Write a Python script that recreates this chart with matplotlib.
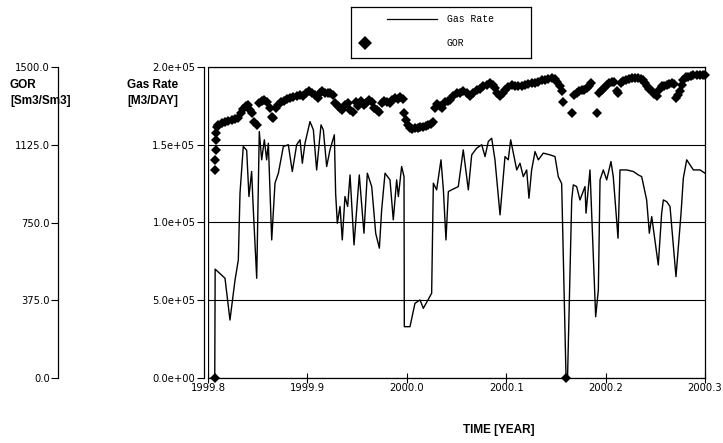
import matplotlib
matplotlib.use('Agg')
import matplotlib.pyplot as plt
from matplotlib.lines import Line2D

# ---------------- data ----------------
gas_time = [1999.8068, 1999.8072, 1999.8171, 1999.8221, 1999.8272, 1999.8305, 1999.8322, 1999.8355,
            1999.8389, 1999.8412, 1999.8439, 1999.8456, 1999.8490, 1999.8516, 1999.8540, 1999.8567,
            1999.8590, 1999.8607, 1999.8641, 1999.8674, 1999.8708, 1999.8758, 1999.8808, 1999.8848,
            1999.8892, 1999.8926, 1999.8949, 1999.8976, 1999.9026, 1999.9060, 1999.9093, 1999.9137,
            1999.9160, 1999.9194, 1999.9227, 1999.9271, 1999.9284, 1999.9301, 1999.9328, 1999.9351,
            1999.9378, 1999.9405, 1999.9429, 1999.9469, 1999.9522, 1999.9569, 1999.9603, 1999.9647,
            1999.9687, 1999.9724, 1999.9747, 1999.9781, 1999.9831, 1999.9864, 1999.9898, 1999.9915,
            1999.9948, 1999.9972, 1999.9975, 2000.0032, 2000.0082, 2000.0133, 2000.0166, 2000.0250,
            2000.0267, 2000.0300, 2000.0344, 2000.0368, 2000.0394, 2000.0418, 2000.0451, 2000.0518,
            2000.0568, 2000.0619, 2000.0653, 2000.0703, 2000.0754, 2000.0787, 2000.0820, 2000.0854,
            2000.0887, 2000.0938, 2000.0988, 2000.1021, 2000.1045, 2000.1072, 2000.1106, 2000.1139,
            2000.1172, 2000.1206, 2000.1229, 2000.1256, 2000.1290, 2000.1323, 2000.1373, 2000.1441,
            2000.1491, 2000.1524, 2000.1558, 2000.1602, 2000.1617, 2000.1659, 2000.1675, 2000.1709,
            2000.1742, 2000.1793, 2000.1803, 2000.1843, 2000.1900, 2000.1927, 2000.1944, 2000.1977,
            2000.2011, 2000.2054, 2000.2077, 2000.2125, 2000.2145, 2000.2212, 2000.2279, 2000.2329,
            2000.2363, 2000.2413, 2000.2440, 2000.2464, 2000.2530, 2000.2564, 2000.2581, 2000.2615,
            2000.2648, 2000.2708, 2000.2759, 2000.2782, 2000.2816, 2000.2883, 2000.2950, 2000.3000]
gas_rate = [0, 70000, 64150, 37300, 63060, 75900, 118800, 148900,
            146500, 116700, 132800, 108100, 64150, 158500, 140300, 153200,
            140300, 151000, 88800, 125300, 131700, 148900, 150000, 132800,
            150000, 153200, 138100, 151000, 164900, 159600, 133800, 162800,
            159600, 136000, 146700, 156400, 118800, 99500, 110300, 88800,
            116700, 110300, 130600, 85600, 130600, 93100, 131700, 123100,
            93100, 83500, 108100, 131700, 127400, 101700, 127400, 116700,
            136000, 129500, 33000, 33000, 48000, 50200, 44800, 54500,
            125300, 121000, 140300, 121000, 88800, 119900, 121000, 123100,
            146700, 121000, 143500, 147800, 150000, 142400, 152100, 154200,
            140300, 104900, 142400, 140300, 153200, 144600, 133800, 138100,
            129500, 133800, 115600, 133800, 145600, 140300, 144600, 143500,
            142400, 129500, 125000, 0, 0, 114500, 124200, 123100,
            114500, 123100, 106000, 133800, 39400, 56600, 127400, 133800,
            127400, 139200, 129500, 89900, 133800, 133800, 132800, 130600,
            129500, 114500, 93100, 103800, 72700, 106000, 114500, 113400,
            110300, 65200, 106000, 128500, 140300, 133800, 133800, 131700]

gor_time = [1999.8068, 1999.8072, 1999.8075, 1999.8078, 1999.8081, 1999.8084, 1999.8087,
            1999.8104, 1999.8138, 1999.8171, 1999.8205, 1999.8238, 1999.8272, 1999.8305, 1999.8332,
            1999.8356, 1999.8379, 1999.8406, 1999.8423, 1999.8439, 1999.8466, 1999.8490, 1999.8513,
            1999.8540, 1999.8567, 1999.8594, 1999.8624, 1999.8641, 1999.8657, 1999.8681, 1999.8708,
            1999.8734, 1999.8761, 1999.8791, 1999.8825, 1999.8859, 1999.8892, 1999.8926, 1999.8959,
            1999.8986, 1999.9016, 1999.9043, 1999.9076, 1999.9103, 1999.9127, 1999.9150, 1999.9177,
            1999.9204, 1999.9231, 1999.9254, 1999.9278, 1999.9305, 1999.9328, 1999.9351, 1999.9378,
            1999.9405, 1999.9432, 1999.9459, 1999.9486, 1999.9512, 1999.9539, 1999.9566, 1999.9593,
            1999.9620, 1999.9647, 1999.9673, 1999.9697, 1999.9720, 1999.9747, 1999.9774, 1999.9801,
            1999.9831, 1999.9855, 1999.9881, 1999.9908, 1999.9935, 1999.9962, 1999.9975, 1999.9989,
            2000.0009, 2000.0032, 2000.0056, 2000.0083, 2000.0109, 2000.0136, 2000.0163, 2000.0190,
            2000.0217, 2000.0243, 2000.0267, 2000.0284, 2000.0307, 2000.0334, 2000.0358, 2000.0384,
            2000.0411, 2000.0438,
            2000.0468, 2000.0502, 2000.0535, 2000.0569, 2000.0602, 2000.0636, 2000.0669, 2000.0703,
            2000.0736, 2000.0770, 2000.0804, 2000.0837, 2000.0864, 2000.0887, 2000.0911, 2000.0938,
            2000.0965, 2000.0988, 2000.1021, 2000.1055, 2000.1089, 2000.1122, 2000.1156, 2000.1189,
            2000.1223, 2000.1256, 2000.1290, 2000.1323, 2000.1357, 2000.1390, 2000.1424, 2000.1458,
            2000.1491, 2000.1515, 2000.1541, 2000.1558, 2000.1575, 2000.1602, 2000.1659, 2000.1682,
            2000.1709, 2000.1736, 2000.1759, 2000.1783, 2000.1810, 2000.1833, 2000.1857, 2000.1910,
            2000.1934, 2000.1960, 2000.1984, 2000.2011, 2000.2038, 2000.2065, 2000.2088, 2000.2111,
            2000.2128, 2000.2152, 2000.2178, 2000.2205, 2000.2235, 2000.2266, 2000.2296, 2000.2329,
            2000.2356, 2000.2380, 2000.2400, 2000.2420, 2000.2440, 2000.2464, 2000.2487, 2000.2514,
            2000.2541, 2000.2564, 2000.2591, 2000.2614, 2000.2641, 2000.2665, 2000.2688, 2000.2708,
            2000.2728, 2000.2749, 2000.2765, 2000.2782, 2000.2809, 2000.2832, 2000.2856, 2000.2883,
            2000.2916, 2000.2950, 2000.2983, 2000.3000]
gor = [0, 1004, 1052, 1100, 1149, 1181, 1213,
       1221, 1229, 1237, 1240, 1245, 1248, 1253, 1277,
       1297, 1310, 1318, 1293, 1277, 1237, 1221, 1326,
       1334, 1342, 1329, 1301, 1261, 1253, 1301, 1318,
       1329, 1338, 1345, 1350, 1355, 1361, 1366, 1358,
       1374, 1382, 1377, 1366, 1350, 1374, 1382, 1377,
       1374, 1377, 1366, 1326, 1313, 1301, 1293, 1318,
       1326, 1293, 1285, 1329, 1310, 1334, 1318, 1326,
       1342, 1329, 1301, 1293, 1281, 1326, 1334, 1329,
       1326, 1342, 1350, 1345, 1355, 1345, 1277, 1245,
       1221, 1205, 1200, 1205, 1208, 1213, 1213, 1216,
       1221, 1226, 1237, 1301, 1322, 1313, 1301, 1329,
       1338, 1342,
       1358, 1374, 1377, 1382, 1374, 1358, 1374, 1390,
       1393, 1406, 1414, 1422, 1414, 1398, 1377, 1358,
       1374, 1390, 1403, 1414, 1409, 1406, 1409, 1414,
       1419, 1422, 1425, 1430, 1435, 1438, 1441, 1446,
       1441, 1430, 1406, 1382, 1329, 0, 1277, 1366,
       1374, 1382, 1387, 1390, 1398, 1409, 1422, 1277,
       1374, 1390, 1398, 1414, 1422, 1428, 1430, 1382,
       1374, 1422, 1433, 1438, 1443, 1446, 1446, 1446,
       1443, 1438, 1422, 1406, 1393, 1382, 1371, 1358,
       1390, 1406, 1409, 1414, 1419, 1422, 1419, 1350,
       1366, 1382, 1414, 1438, 1451, 1454, 1459, 1462,
       1462, 1462, 1462, 1462]

x_ticks = [1999.8, 1999.9, 2000.0, 2000.1, 2000.2, 2000.3]
x_labels = ['1999.8', '1999.9', '2000.0', '2000.1', '2000.2', '2000.3']
gas_ticks = [0, 50000, 100000, 150000, 200000]
gas_labels = ['0.0e+00', '5.0e+05', '1.0e+05', '1.5e+05', '2.0e+05']
gor_ticks = [0, 375, 750, 1125, 1500]
gor_labels = ['0.0', '375.0', '750.0', '1125.0', '1500.0']

# ---------------- layout ----------------
W, H = 723, 443
fig = plt.figure(figsize=(W / 100, H / 100), dpi=100)
fig.patch.set_facecolor('white')


def fx(px):
    return px / W


def fy(py):
    return 1 - py / H


TICK_SIZE = 7.2
TICK_FAMILY = 'DejaVu Sans'
bold_font = dict(family='Liberation Sans', weight='bold', size=8.5)

ax = fig.add_axes([fx(208), fy(378), fx(705) - fx(208), fy(67) - fy(378)])
ax.set_xlim(x_ticks[0], x_ticks[-1])
ax.set_ylim(gas_ticks[0], gas_ticks[-1])

ax.plot(gas_time, gas_rate, color='black', lw=1.0, zorder=3)

ax.set_yticks(gas_ticks)
ax.set_yticklabels(gas_labels)
ax.set_xticks(x_ticks)
ax.set_xticklabels(x_labels)
ax.yaxis.grid(True, color='black', lw=0.8)
ax.tick_params(axis='y', direction='out', length=5, width=0.8, pad=1, labelsize=TICK_SIZE)
ax.tick_params(axis='x', direction='inout', length=7, width=0.8, pad=0, labelsize=TICK_SIZE)
for s in ax.spines.values():
    s.set_linewidth(0.9)
ax.spines['left'].set_position(('outward', 3))
ax.axvline(ax.get_xlim()[0], color='black', lw=0.9, zorder=2)

# GOR axis
ax2 = ax.twinx()
ax2.set_ylim(gor_ticks[0], gor_ticks[-1])
ax2.plot(gor_time, gor, linestyle='none', marker='D', ms=5.2, color='black',
         markeredgewidth=0, zorder=4, clip_on=False)
ax2.yaxis.set_ticks_position('left')
ax2.yaxis.set_label_position('left')
ax2.spines['left'].set_position(('outward', 108))
ax2.spines['left'].set_linewidth(0.9)
for k in ['right', 'top', 'bottom']:
    ax2.spines[k].set_visible(False)
ax2.set_yticks(gor_ticks)
ax2.set_yticklabels(gor_labels)
ax2.tick_params(axis='y', direction='out', length=5, width=0.8, pad=1, labelsize=TICK_SIZE)

for lab in ax.get_xticklabels() + ax.get_yticklabels() + ax2.get_yticklabels():
    lab.set_family(TICK_FAMILY)

# axis titles
fig.text(fx(10), fy(85), 'GOR', ha='left', va='center', **bold_font)
fig.text(fx(10), fy(101), '[Sm3/Sm3]', ha='left', va='center', **bold_font)
fig.text(fx(127), fy(85), 'Gas Rate', ha='left', va='center', **bold_font)
fig.text(fx(127), fy(101), '[M3/DAY]', ha='left', va='center', **bold_font)
fig.text(fx(499), fy(430), 'TIME [YEAR]', ha='center', va='center', **bold_font)

# legend box
lg = fig.add_axes([fx(351), fy(58), fx(531) - fx(351), fy(7) - fy(58)])
lg.set_xlim(0, 1)
lg.set_ylim(0, 1)
lg.set_xticks([])
lg.set_yticks([])
for s in lg.spines.values():
    s.set_linewidth(0.9)
lg.add_line(Line2D([0.2, 0.478], [0.765, 0.765], color='black', lw=0.9))
lg.add_line(Line2D([0.078], [0.294], marker='D', ms=7, color='black', markeredgewidth=0))
leg_font = dict(family='Liberation Mono', size=7)
lg.text(0.533, 0.765, 'Gas Rate', ha='left', va='center', **leg_font)
lg.text(0.533, 0.294, 'GOR', ha='left', va='center', **leg_font)

fig.savefig('out.png', dpi=100)
